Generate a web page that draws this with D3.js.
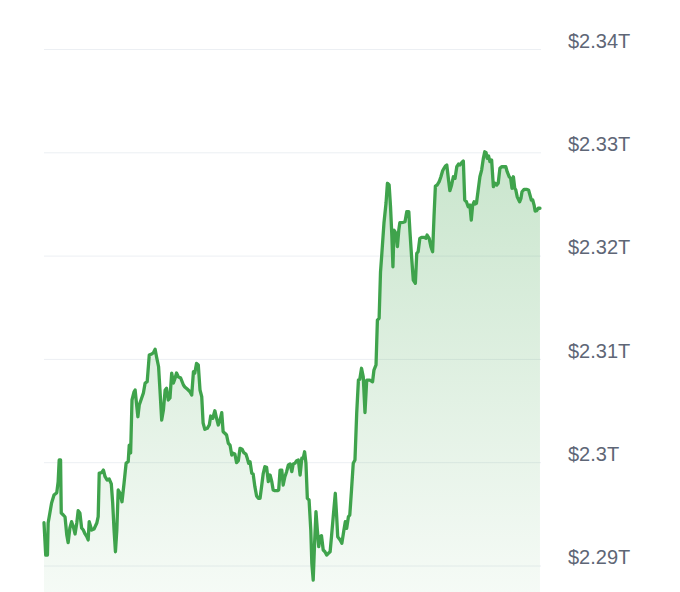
<!DOCTYPE html>
<html>
<head>
<meta charset="utf-8">
<script src="https://cdn.jsdelivr.net/npm/d3@7/dist/d3.min.js"></script>
<style>
  html, body { margin: 0; padding: 0; background: #ffffff; }
  svg { display: block; }
</style>
</head>
<body>
<svg id="chart" width="680" height="592"></svg>
<script>
// Minutes since start of the 24h window
const minutes = [0,5,10,12,22,29,37,41,44,48,50,56,61,66,70,75,80,85,90,95,99,104,109,114,119,124,128,131,138,145,153,157,160,167,172,177,183,189,195,199,203,207,211,215,220,226,232,238,244,247,251,255,261,264,269,272,276,283,288,293,299,305,312,317,322,326,332,336,341,346,351,355,360,365,370,375,380,384,389,396,404,408,415,423,428,433,437,442,447,452,457,461,466,473,479,483,489,495,500,505,510,515,519,524,529,534,539,544,548,553,558,563,568,574,579,585,589,593,597,602,606,611,616,621,626,631,635,640,645,650,655,660,664,669,676,680,684,689,693,698,703,708,713,718,722,727,732,737,742,747,751,755,759,763,768,773,776,780,784,788,792,796,800,804,809,814,819,824,829,833,838,844,848,851,858,863,869,873,877,882,886,891,896,901,906,911,915,920,925,930,935,944,952,956,962,966,971,975,979,985,991,995,1000,1004,1008,1011,1014,1020,1024,1028,1031,1041,1046,1051,1057,1060,1065,1070,1076,1080,1084,1089,1094,1101,1107,1110,1116,1121,1126,1130,1134,1139,1145,1150,1155,1159,1163,1167,1171,1176,1181,1186,1191,1196,1201,1205,1210,1215,1219,1224,1229,1234,1238,1242,1246,1249,1253,1258,1263,1268,1273,1277,1281,1284,1288,1292,1297,1302,1307,1312,1316,1321,1326,1333,1338,1342,1348,1352,1356,1360,1364,1367,1371,1378,1382,1385,1391,1398,1404,1408,1412,1416,1420,1423,1427,1432,1437];

// Market cap in billions of USD
const capB = [2294.19,2291.06,2291.06,2294.16,2296.10,2296.87,2297.10,2298.16,2300.26,2300.26,2295.13,2294.94,2294.74,2293.00,2292.26,2293.68,2294.29,2293.80,2293.10,2294.16,2295.35,2295.13,2293.68,2293.48,2293.10,2292.84,2292.52,2294.29,2293.48,2293.58,2294.16,2294.77,2299.00,2299.03,2299.29,2298.64,2298.32,2298.42,2297.94,2296.10,2293.48,2291.38,2293.48,2297.36,2297.07,2296.22,2298.03,2299.97,2300.10,2301.71,2300.94,2306.07,2306.87,2307.04,2305.42,2304.45,2305.58,2306.26,2306.75,2307.71,2307.84,2310.42,2310.52,2310.65,2310.98,2310.26,2309.29,2307.04,2304.13,2305.10,2307.04,2307.20,2306.07,2306.26,2308.68,2307.71,2308.20,2308.68,2308.32,2308.20,2307.52,2307.33,2307.13,2306.87,2306.55,2308.81,2308.68,2309.62,2309.46,2307.04,2306.39,2303.84,2303.23,2303.33,2303.65,2304.52,2304.30,2305.03,2304.30,2303.65,2304.13,2304.84,2303.00,2302.85,2302.68,2301.88,2301.71,2300.74,2300.91,2300.84,2300.00,2300.19,2301.39,2301.30,2300.97,2300.84,2300.43,2299.94,2300.10,2298.97,2298.91,2297.68,2296.78,2296.55,2296.55,2297.84,2298.91,2299.61,2299.55,2298.16,2298.81,2298.16,2297.36,2297.29,2297.29,2297.36,2299.29,2299.29,2297.84,2298.64,2299.13,2299.78,2299.87,2299.13,2299.87,2299.94,2300.19,2300.26,2298.81,2300.43,2300.43,2301.06,2299.94,2296.55,2296.39,2293.48,2290.26,2288.64,2292.20,2295.26,2293.48,2291.87,2292.84,2292.93,2291.55,2291.38,2291.06,2291.23,2291.38,2292.84,2294.77,2297.04,2294.77,2292.84,2292.52,2292.20,2293.48,2294.29,2293.65,2294.77,2294.94,2297.36,2299.94,2300.26,2304.78,2308.00,2308.07,2309.14,2308.32,2304.86,2308.00,2308.00,2307.84,2308.97,2309.46,2313.81,2313.98,2318.46,2320.30,2323.20,2325.14,2327.05,2326.88,2324.78,2321.88,2318.97,2322.52,2322.21,2320.91,2322.52,2323.23,2323.27,2323.33,2324.30,2324.30,2322.52,2319.94,2317.68,2317.37,2320.27,2320.42,2321.72,2321.82,2321.82,2321.72,2322.04,2321.72,2320.91,2320.42,2323.81,2326.78,2326.88,2327.20,2327.68,2328.26,2328.50,2328.72,2328.82,2327.68,2326.33,2326.88,2327.68,2327.53,2328.65,2328.91,2328.82,2329.04,2329.20,2325.43,2325.26,2324.78,2324.94,2323.49,2324.94,2325.26,2325.04,2325.11,2326.40,2327.68,2328.33,2329.47,2330.10,2330.01,2329.47,2329.69,2329.14,2329.30,2326.72,2327.05,2326.88,2327.05,2328.50,2328.65,2328.65,2328.65,2328.17,2327.68,2327.53,2326.56,2327.68,2326.56,2326.40,2325.75,2325.26,2325.59,2326.23,2326.46,2326.46,2326.40,2325.91,2325.43,2325.43,2324.94,2324.36,2324.39,2324.63,2324.63];

const tickValues = [2290, 2300, 2310, 2320, 2330, 2340];
const tickLabels = ["$2.29T", "$2.3T", "$2.31T", "$2.32T", "$2.33T", "$2.34T"];

const W = 680, H = 592;
const plot = { left: 44, right: 541, top: 49.5, bottom: 566 };

const svg = d3.select("#chart");

const x = d3.scaleLinear().domain([0, 1440]).range([plot.left, plot.right]);
const y = d3.scaleLinear().domain([2290, 2340]).range([plot.bottom, plot.top]);

const data = minutes.map((m, i) => ({ m, v: capB[i] }));

const defs = svg.append("defs");
const grad = defs.append("linearGradient")
  .attr("id", "areaGrad")
  .attr("gradientUnits", "userSpaceOnUse")
  .attr("x1", 0).attr("x2", 0)
  .attr("y1", y(2330)).attr("y2", H);
grad.append("stop").attr("offset", "0%").attr("stop-color", "#3fa34c").attr("stop-opacity", 0.28);
grad.append("stop").attr("offset", "100%").attr("stop-color", "#3fa34c").attr("stop-opacity", 0.05);

// Gridlines
svg.append("g")
  .selectAll("line")
  .data(tickValues)
  .join("line")
  .attr("x1", plot.left).attr("x2", plot.right)
  .attr("y1", d => y(d)).attr("y2", d => y(d))
  .attr("stroke", "#eceff3")
  .attr("stroke-width", 1);

// Area
const area = d3.area()
  .x(d => x(d.m))
  .y0(H)
  .y1(d => y(d.v));

svg.append("path")
  .datum(data)
  .attr("d", area)
  .attr("fill", "url(#areaGrad)");

// Line
const line = d3.line()
  .x(d => x(d.m))
  .y(d => y(d.v));

svg.append("path")
  .datum(data)
  .attr("d", line)
  .attr("fill", "none")
  .attr("stroke", "#3fa34c")
  .attr("stroke-width", 3.3)
  .attr("stroke-linejoin", "round")
  .attr("stroke-linecap", "round");

// Y axis labels (right side)
const yAxis = d3.axisRight(y)
  .tickValues(tickValues)
  .tickFormat((d, i) => tickLabels[i])
  .tickSize(0)
  .tickPadding(0);

const gAxis = svg.append("g")
  .attr("transform", `translate(568,0)`)
  .call(yAxis);
gAxis.select(".domain").remove();
gAxis.selectAll("text")
  .attr("dy", "-0.11em")
  .attr("font-family", "'Liberation Sans', Arial, Helvetica, sans-serif")
  .attr("font-size", 20)
  .attr("fill", "#5e6676")
  .attr("dominant-baseline", "auto");
</script>
</body>
</html>
